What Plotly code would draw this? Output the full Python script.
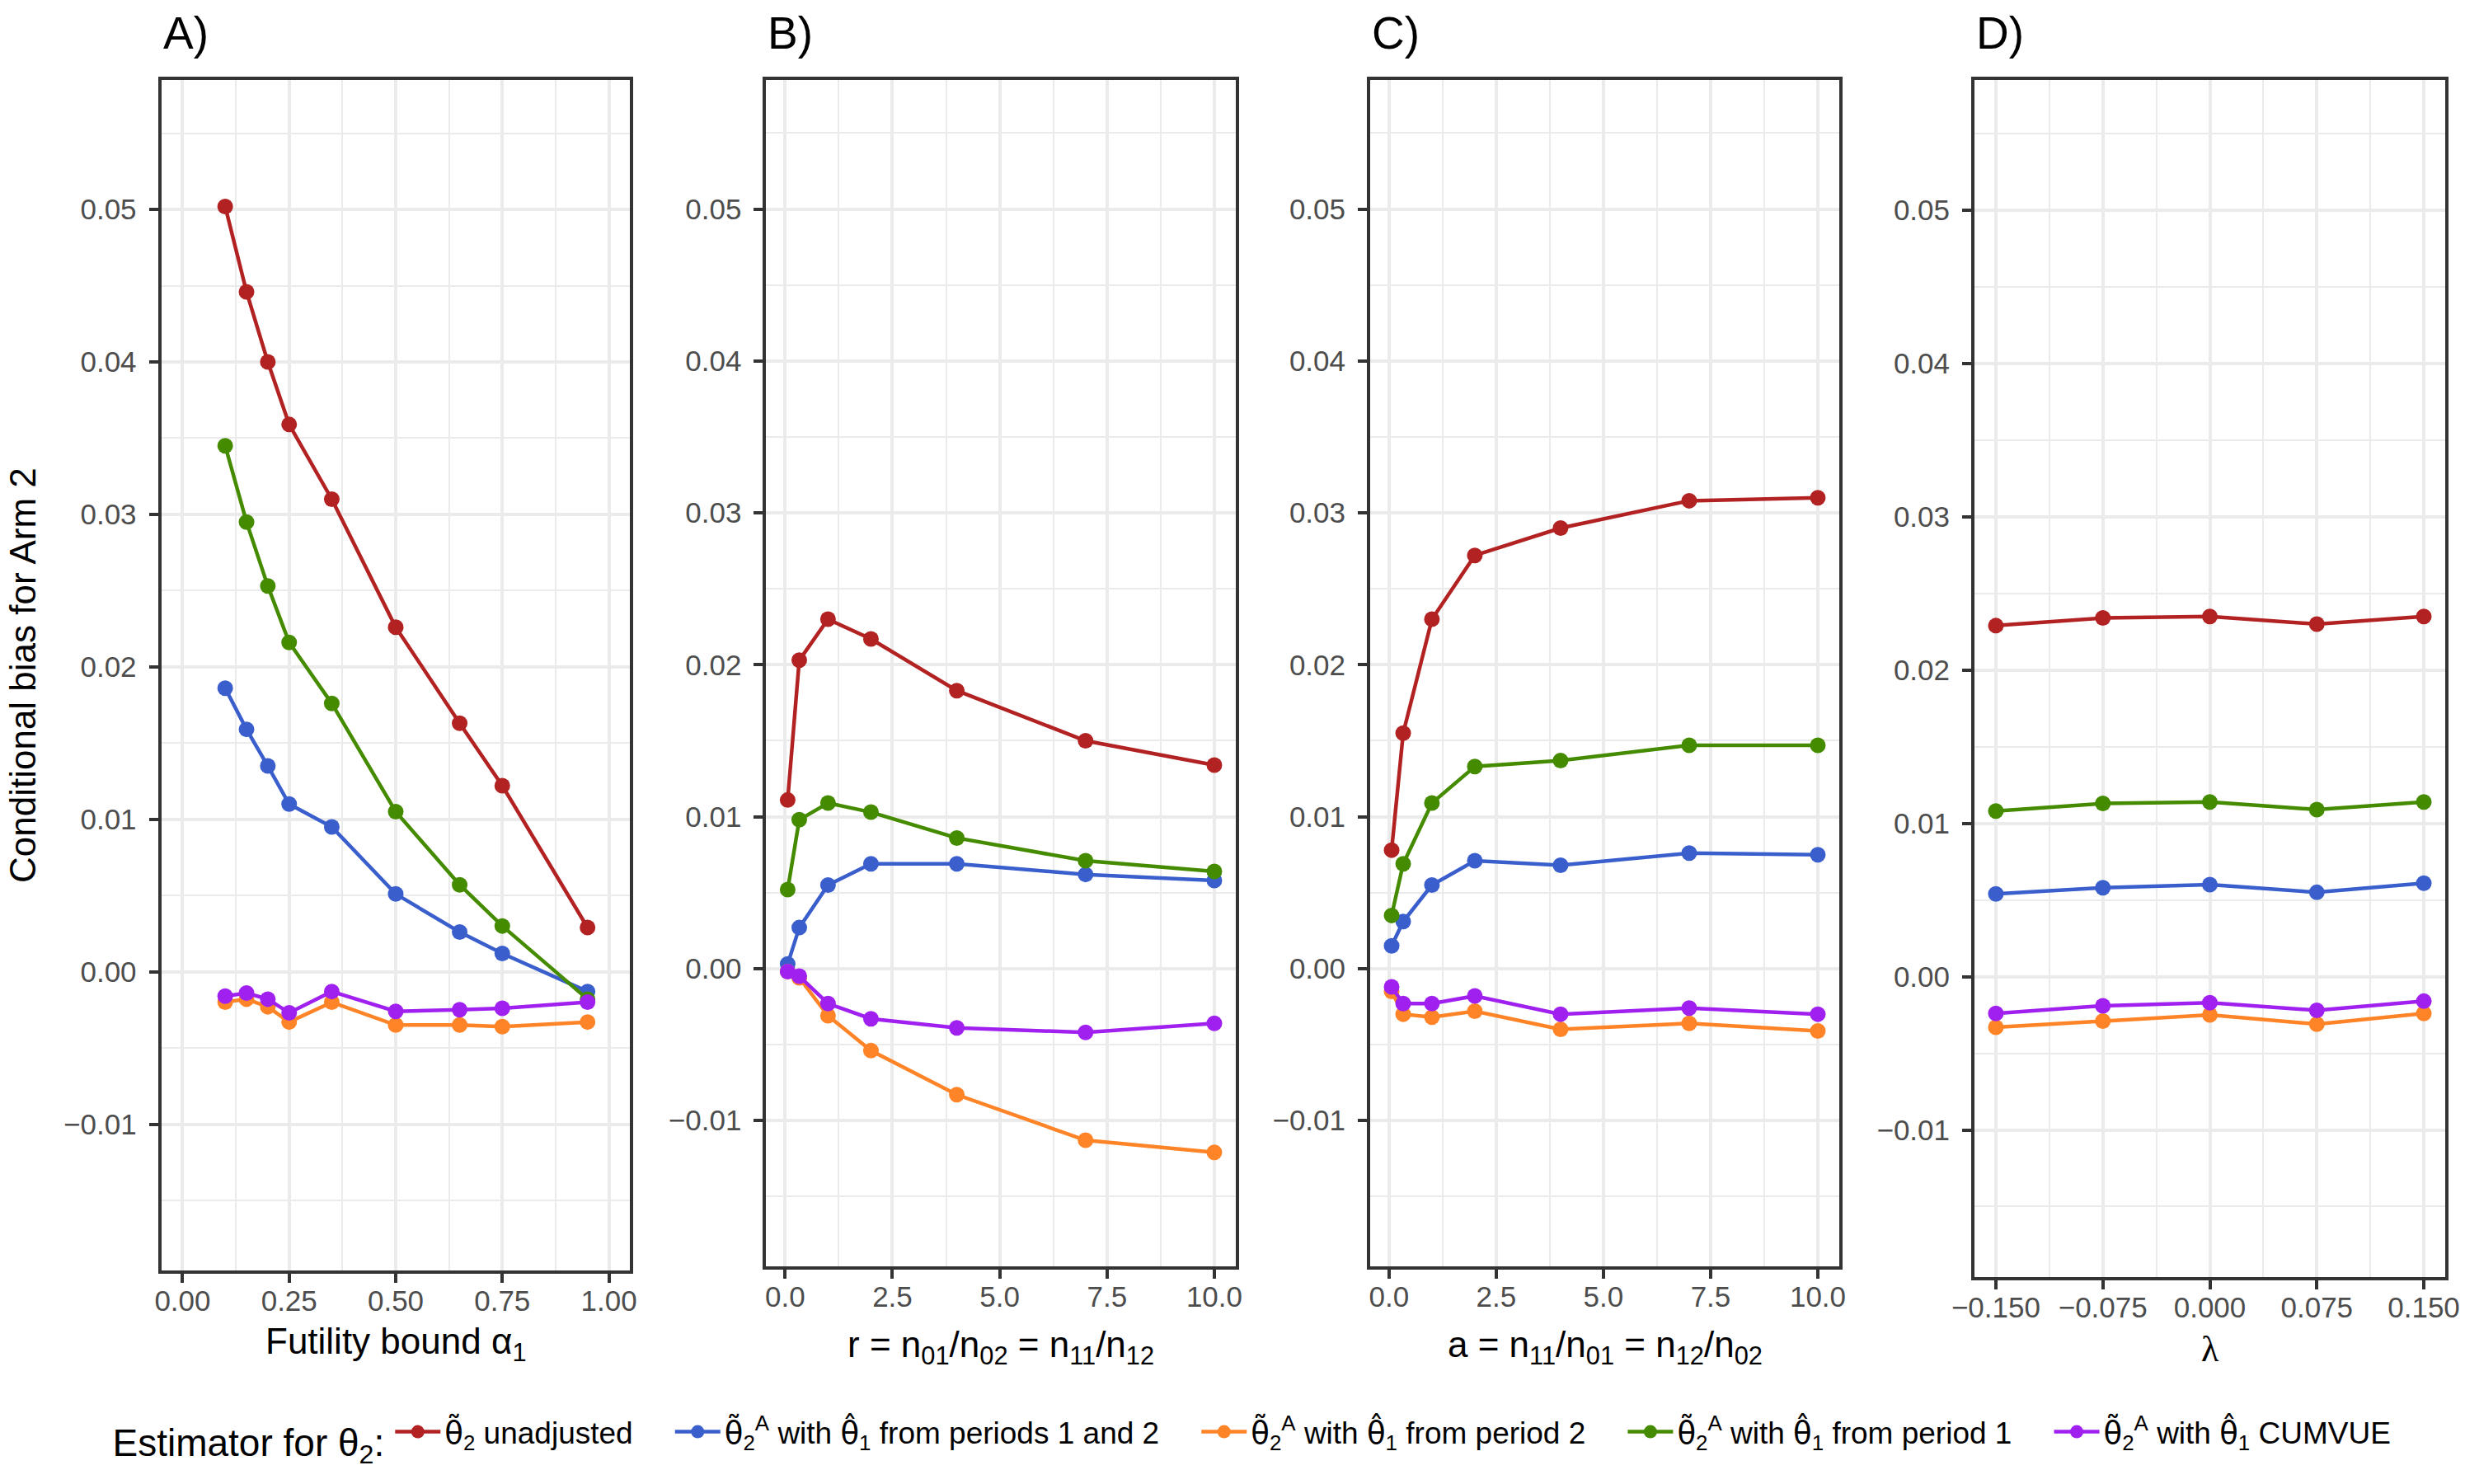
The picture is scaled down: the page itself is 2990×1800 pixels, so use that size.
import plotly.graph_objects as go

# ---------------- data ----------------
alpha1 = [0.10, 0.15, 0.20, 0.25, 0.35, 0.50, 0.65, 0.75, 0.95]
A_unadj = [0.0502, 0.0446, 0.0400, 0.0359, 0.0310, 0.0226, 0.0163, 0.0122, 0.0029]
A_p12 = [0.0186, 0.0159, 0.0135, 0.0110, 0.0095, 0.0051, 0.0026, 0.0012, -0.0013]
A_p2 = [-0.0020, -0.0018, -0.0023, -0.0033, -0.0020, -0.0035, -0.0035, -0.0036, -0.0033]
A_p1 = [0.0345, 0.0295, 0.0253, 0.0216, 0.0176, 0.0105, 0.0057, 0.0030, -0.0018]
A_cumvue = [-0.0016, -0.0014, -0.0018, -0.0027, -0.0013, -0.0026, -0.0025, -0.0024, -0.0020]

r_vals = [0.06, 0.33, 1, 2, 4, 7, 10]
B_unadj = [0.0111, 0.0203, 0.0230, 0.0217, 0.0183, 0.0150, 0.0134]
B_p12 = [0.0003, 0.0027, 0.0055, 0.0069, 0.0069, 0.0062, 0.0058]
B_p2 = [-0.0002, -0.0006, -0.0031, -0.0054, -0.0083, -0.0113, -0.0121]
B_p1 = [0.0052, 0.0098, 0.0109, 0.0103, 0.0086, 0.0071, 0.0064]
B_cumvue = [-0.0002, -0.0005, -0.0023, -0.0033, -0.0039, -0.0042, -0.0036]

a_vals = [0.06, 0.33, 1, 2, 4, 7, 10]
C_unadj = [0.0078, 0.0155, 0.0230, 0.0272, 0.0290, 0.0308, 0.0310]
C_p12 = [0.0015, 0.0031, 0.0055, 0.0071, 0.0068, 0.0076, 0.0075]
C_p2 = [-0.0015, -0.0030, -0.0032, -0.0028, -0.0040, -0.0036, -0.0041]
C_p1 = [0.0035, 0.0069, 0.0109, 0.0133, 0.0137, 0.0147, 0.0147]
C_cumvue = [-0.0012, -0.0023, -0.0023, -0.0018, -0.0030, -0.0026, -0.0030]

lam_vals = [-0.15, -0.075, 0.0, 0.075, 0.15]
D_unadj = [0.0229, 0.0234, 0.0235, 0.0230, 0.0235]
D_p12 = [0.0054, 0.0058, 0.0060, 0.0055, 0.0061]
D_p2 = [-0.0033, -0.0029, -0.0025, -0.0031, -0.0024]
D_p1 = [0.0108, 0.0113, 0.0114, 0.0109, 0.0114]
D_cumvue = [-0.0024, -0.0019, -0.0017, -0.0022, -0.0016]

TT = '<span style="font-family:DejaVu Sans">θ̃</span>'   # theta tilde
TH = '<span style="font-family:DejaVu Sans">θ̂</span>'   # theta hat
NB = "\u00a0"
TRAIL = NB * 4
series_names = [
    TT + "<sub>2</sub> unadjusted" + TRAIL,
    TT + "<sub>2</sub><sup>A</sup> with " + TH + "<sub>1</sub> from periods 1 and 2" + TRAIL,
    TT + "<sub>2</sub><sup>A</sup> with " + TH + "<sub>1</sub> from period 2" + TRAIL,
    TT + "<sub>2</sub><sup>A</sup> with " + TH + "<sub>1</sub> from period 1" + TRAIL,
    TT + "<sub>2</sub><sup>A</sup> with " + TH + "<sub>1</sub> CUMVUE",
]
colors = ["#B22222", "#3A5FCD", "#FF8428", "#458B00", "#A020F0"]

panel_tags = ["A)", "B)", "C)", "D)"]
x_titles = [
    "Futility bound α<sub>1</sub>",
    "r = n<sub>01</sub>/n<sub>02</sub> = n<sub>11</sub>/n<sub>12</sub>",
    "a = n<sub>11</sub>/n<sub>01</sub> = n<sub>12</sub>/n<sub>02</sub>",
    '<span style="font-family:Liberation Serif">λ</span>',
]
y_title = "Conditional bias for Arm 2"
legend_title = "Estimator for θ<sub>2</sub>:"

panels = [
    (alpha1, [A_unadj, A_p12, A_p2, A_p1, A_cumvue]),
    (r_vals, [B_unadj, B_p12, B_p2, B_p1, B_cumvue]),
    (a_vals, [C_unadj, C_p12, C_p2, C_p1, C_cumvue]),
    (lam_vals, [D_unadj, D_p12, D_p2, D_p1, D_cumvue]),
]

# ---------------- layout geometry ----------------
W, H = 2990, 1800
FONT = "Liberation Sans"
x_px = [(195.6, 764.4), (929.4, 1499.0), (1662.0, 2231.0), (2395.0, 2966.0)]
top_px = 97
bottom_px = [1541, 1536, 1536, 1549]
xtitle_px = [1630, 1634, 1634, 1636]
x_ranges = [[-0.05, 1.05], [-0.44, 10.5], [-0.44, 10.5], [-0.165, 0.165]]
x_dticks = [0.25, 2.5, 2.5, 0.075]
x_tick0 = [0, 0, 0, -0.15]
x_formats = [".2f", ".1f", ".1f", ".3f"]
y_range = [-0.0196, 0.0585]

grid_col = "#EBEBEB"
line_col = "#333333"

fig = go.Figure()

for p, (xv, ys) in enumerate(panels):
    ax = "" if p == 0 else str(p + 1)
    for s, yv in enumerate(ys):
        fig.add_trace(go.Scatter(
            x=xv, y=yv, mode="lines+markers",
            name=series_names[s],
            legendgroup=str(s),
            showlegend=(p == 0),
            line=dict(color=colors[s], width=4.5),
            marker=dict(color=colors[s], size=19),
            xaxis="x" + ax, yaxis="y" + ax,
        ))

layout = dict(
    width=W, height=H,
    margin=dict(l=0, r=0, t=0, b=0),
    paper_bgcolor="white", plot_bgcolor="white",
    font=dict(family=FONT, color="black", size=44),
    showlegend=True,
    legend=dict(
        orientation="h", x=1520 / W, xanchor="center", y=(H - 1741) / H, yanchor="middle",
        font=dict(family=FONT, size=37, color="black"),
        title=dict(text=legend_title, side="left",
                   font=dict(family=FONT, size=46, color="black")),
        itemwidth=55, tracegroupgap=0,
    ),
)

annotations = []
for p in range(4):
    ax = "" if p == 0 else str(p + 1)
    x0, x1 = x_px[p]
    xd = [x0 / W, x1 / W]
    yd = [1 - bottom_px[p] / H, 1 - top_px / H]
    layout["xaxis" + ax] = dict(
        domain=xd, range=x_ranges[p], anchor="y" + ax,
        tickmode="linear", tick0=x_tick0[p], dtick=x_dticks[p], tickformat=x_formats[p],
        showgrid=True, gridcolor=grid_col, gridwidth=4.4,
        minor=dict(dtick=x_dticks[p] / 2, tick0=x_tick0[p], showgrid=True,
                   gridcolor=grid_col, gridwidth=2.2, ticks=""),
        showline=True, mirror=True, linecolor=line_col, linewidth=4,
        ticks="outside", ticklen=11, tickwidth=4, tickcolor=line_col,
        tickfont=dict(family=FONT, size=35, color="#4D4D4D"),
        ticklabelstandoff=-8,
        zeroline=False, automargin=False,
    )
    layout["yaxis" + ax] = dict(
        domain=yd, range=y_range, anchor="x" + ax,
        tickmode="linear", tick0=0, dtick=0.01, tickformat=".2f",
        showgrid=True, gridcolor=grid_col, gridwidth=4.4,
        minor=dict(dtick=0.005, tick0=0, showgrid=True,
                   gridcolor=grid_col, gridwidth=2.2, ticks=""),
        showline=True, mirror=True, linecolor=line_col, linewidth=4,
        ticks="outside", ticklen=11, tickwidth=4, tickcolor=line_col,
        tickfont=dict(family=FONT, size=35, color="#4D4D4D"),
        ticklabelstandoff=8,
        zeroline=False, automargin=False,
    )
    # panel tag
    annotations.append(dict(
        text=panel_tags[p], x=x0 / W, y=1 - 40 / H, xref="paper", yref="paper",
        xanchor="left", yanchor="middle", showarrow=False,
        font=dict(family=FONT, size=55, color="black"),
    ))
    # x-axis title
    annotations.append(dict(
        text=x_titles[p], x=(x0 + x1) / 2 / W, y=1 - xtitle_px[p] / H,
        xref="paper", yref="paper",
        xanchor="center", yanchor="middle", showarrow=False,
        font=dict(family=FONT, size=44, color="black"),
    ))

annotations.append(dict(
    text=y_title, x=27 / W, y=1 - ((top_px + bottom_px[0]) / 2) / H,
    xref="paper", yref="paper", xanchor="center", yanchor="middle",
    textangle=-90, showarrow=False,
    font=dict(family=FONT, size=44, color="black"),
))
layout["annotations"] = annotations

fig.update_layout(**layout)
fig.write_html("out.html", config={"displayModeBar": False},
               post_script="document.body.style.margin='0px';")
